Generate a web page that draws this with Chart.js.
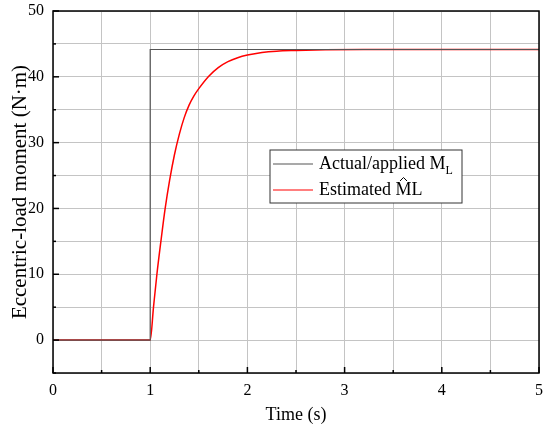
<!DOCTYPE html>
<html>
<head>
<meta charset="utf-8">
<script src="https://cdn.jsdelivr.net/npm/chart.js@4.4.1/dist/chart.umd.min.js"></script>
<style>
  html, body { margin: 0; padding: 0; background: #fff; }
  #wrap { width: 550px; height: 430px; }
</style>
</head>
<body>
<div id="wrap"><canvas id="myChart"></canvas></div>
<script>
// values
var actualTime = [0, 1, 1, 5];
var actualMoment = [0, 0, 44.15, 44.15];

var estTime = [0, 1, 1.034, 1.069, 1.11, 1.154, 1.2, 1.25, 1.3, 1.35, 1.4, 1.45, 1.5, 1.6, 1.7, 1.8, 1.9, 2.0, 2.15, 2.3, 2.5, 2.8, 3.2, 5];
var estMoment = [0, 0, 5, 10, 15, 20, 24.3, 28.2, 31.3, 33.8, 35.7, 37.1, 38.2, 40.05, 41.4, 42.3, 42.9, 43.3, 43.7, 43.9, 44.0, 44.1, 44.15, 44.15];

var xTicks = [0, 1, 2, 3, 4, 5];
var yTicks = [0, 10, 20, 30, 40, 50];

var serif = "'Liberation Serif', 'Times New Roman', serif";

function toPoints(xs, ys) {
    return xs.map(function (x, i) { return { x: x, y: ys[i] }; });
}

// inward tick marks, frame and the legend box
var decorations = {
    id: 'decorations',
    afterDraw: function (chart) {
        var ctx = chart.ctx;
        var area = chart.chartArea;
        var xs = chart.scales.x, ys = chart.scales.y;
        ctx.save();
        ctx.strokeStyle = '#000';
        ctx.lineWidth = 1.5;
        ctx.strokeRect(area.left, area.top, area.right - area.left, area.bottom - area.top);

        xs.ticks.forEach(function (t) {
            var px = xs.getPixelForValue(t.value);
            var len = xTicks.indexOf(t.value) >= 0 ? 6 : 3;
            ctx.beginPath();
            ctx.moveTo(px, area.bottom);
            ctx.lineTo(px, area.bottom - len);
            ctx.stroke();
        });
        ys.ticks.forEach(function (t) {
            var py = ys.getPixelForValue(t.value);
            var len = yTicks.indexOf(t.value) >= 0 ? 6 : 3;
            ctx.beginPath();
            ctx.moveTo(area.left, py);
            ctx.lineTo(area.left + len, py);
            ctx.stroke();
        });

        // legend
        var bx = area.left + 217, by = area.top + 139, bw = 192, bh = 53;
        ctx.fillStyle = '#fff';
        ctx.fillRect(bx, by, bw, bh);
        ctx.strokeStyle = '#333';
        ctx.lineWidth = 1;
        ctx.strokeRect(bx, by, bw, bh);

        var rows = [
            { color: '#555', y: by + 14 },
            { color: '#ff0000', y: by + 40 }
        ];
        rows.forEach(function (r) {
            ctx.strokeStyle = r.color;
            ctx.lineWidth = 1.2;
            ctx.beginPath();
            ctx.moveTo(bx + 3, r.y);
            ctx.lineTo(bx + 43, r.y);
            ctx.stroke();
        });

        ctx.fillStyle = '#000';
        ctx.textBaseline = 'middle';
        ctx.textAlign = 'left';
        ctx.font = '18px ' + serif;
        var tx = bx + 49;
        var s1 = 'Actual/applied M';
        ctx.fillText(s1, tx, rows[0].y);
        var w1 = ctx.measureText(s1).width;
        ctx.font = '12px ' + serif;
        ctx.fillText('L', tx + w1, rows[0].y + 7);

        ctx.font = '18px ' + serif;
        var s2 = 'Estimated ';
        ctx.fillText(s2, tx, rows[1].y);
        var w2 = ctx.measureText(s2).width;
        ctx.fillText('M', tx + w2, rows[1].y);
        var wm = ctx.measureText('M').width;
        ctx.fillText('L', tx + w2 + wm, rows[1].y);
        // hat over the M
        var hx = tx + w2 + wm / 2;
        ctx.strokeStyle = '#000';
        ctx.lineWidth = 1;
        ctx.beginPath();
        ctx.moveTo(hx - 3.5, rows[1].y - 9);
        ctx.lineTo(hx, rows[1].y - 12.5);
        ctx.lineTo(hx + 3.5, rows[1].y - 9);
        ctx.stroke();
        ctx.restore();
    }
};

var ctx = document.getElementById('myChart');
var myChart = new Chart(ctx, {
    type: 'line',
    data: {
        datasets: [
            {
                label: 'Actual/applied M_L',
                data: toPoints(actualTime, actualMoment),
                borderColor: '#555555',
                borderWidth: 1.2,
                pointRadius: 0,
                tension: 0
            },
            {
                label: 'Estimated M^L',
                data: toPoints(estTime, estMoment),
                borderColor: '#ff0000',
                borderWidth: 1.5,
                pointRadius: 0,
                cubicInterpolationMode: 'monotone'
            }
        ]
    },
    options: {
        responsive: true,
        maintainAspectRatio: false,
        animation: false,
        layout: { padding: { top: 11, right: 11, left: 2, bottom: 0 } },
        plugins: {
            legend: { display: false },
            tooltip: { enabled: false }
        },
        scales: {
            x: {
                type: 'linear',
                min: 0,
                max: 5,
                afterFit: function (scale) {
                    scale.height = 57;
                    scale.paddingLeft = 0;
                    scale.paddingRight = 0;
                },
                ticks: {
                    stepSize: 0.5,
                    autoSkip: false,
                    maxRotation: 0,
                    padding: 8,
                    color: '#000',
                    font: { family: serif, size: 16 },
                    callback: function (v) { return xTicks.indexOf(v) >= 0 ? String(v) : ''; }
                },
                grid: { color: '#c4c4c4', lineWidth: 1, drawTicks: false },
                border: { display: false },
                title: {
                    display: true,
                    text: 'Time (s)',
                    color: '#000',
                    font: { family: serif, size: 18 },
                    padding: { top: 2 }
                }
            },
            y: {
                min: -5,
                max: 50,
                afterFit: function (scale) {
                    scale.width = 51;
                    scale.paddingTop = 0;
                    scale.paddingBottom = 0;
                },
                ticks: {
                    stepSize: 5,
                    autoSkip: false,
                    padding: 9,
                    color: '#000',
                    font: { family: serif, size: 16 },
                    callback: function (v) { return yTicks.indexOf(v) >= 0 ? String(v) : ''; }
                },
                grid: { color: '#c4c4c4', lineWidth: 1, drawTicks: false },
                border: { display: false },
                title: {
                    display: true,
                    text: 'Eccentric-load moment (N\u00b7m)',
                    color: '#000',
                    font: { family: serif, size: 21 },
                    padding: { top: 6, bottom: 0 }
                }
            }
        }
    },
    plugins: [decorations]
});
</script>
</body>
</html>
